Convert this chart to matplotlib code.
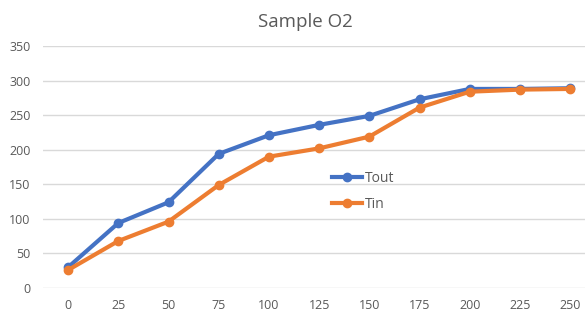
import matplotlib.pyplot as plt
from matplotlib import font_manager

x_labels = ["0", "25", "50", "75", "100", "125", "150", "175", "200", "225", "250"]
t_out = [30, 94, 124, 194, 221, 236, 249, 273, 288, 288, 289]
t_in = [26, 68, 96, 149, 190, 202, 219, 261, 284, 287, 288]

names = {f.name for f in font_manager.fontManager.ttflist}
font = "Liberation Sans Narrow" if "Liberation Sans Narrow" in names else "Open Sans"
plt.rcParams["font.family"] = [font, "DejaVu Sans"]

grey = "#595959"
fig = plt.figure(figsize=(5.85, 3.2), dpi=100)
ax = fig.add_axes([0.0735, 0.1, 0.944, 0.756])

pos = list(range(len(x_labels)))
ax.plot(pos, t_out, color="#4472C4", lw=3, marker="o", ms=6, label="Tout", zorder=3)
ax.plot(pos, t_in, color="#ED7D31", lw=3, marker="o", ms=6, label="Tin", zorder=4)

ax.set_xlim(-0.5, 10.5)
ax.set_ylim(0, 350)
ax.set_yticks(range(0, 351, 50))
ax.set_xticks(pos)
ax.set_xticklabels(x_labels)
ax.grid(axis="y", color="#D9D9D9", lw=1)
ax.set_axisbelow(True)
for s in ax.spines.values():
    s.set_visible(False)
ax.tick_params(length=0, labelsize=9, colors=grey, pad=8)
ax.tick_params(axis="y", pad=9)

fig.text(305 / 585, 1 - 22 / 320, "Sample O2", ha="center", va="center",
         fontsize=13.5, color=grey)

ax.legend(loc="center left", bbox_to_anchor=(0.5, 0.4), frameon=False,
          fontsize=10, labelcolor=grey, handlelength=2.2, handletextpad=0.2,
          labelspacing=0.8)

fig.savefig("out.png", dpi=100)
